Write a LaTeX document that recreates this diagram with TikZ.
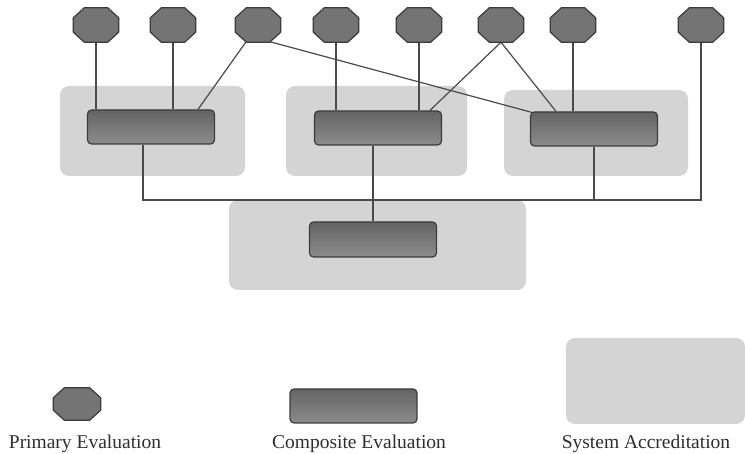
\documentclass[tikz,border=0pt]{standalone}
\usepackage{fontspec}
\setmainfont{Liberation Serif}
\usetikzlibrary{calc}
\pgfdeclarelayer{back}
\pgfdeclarelayer{mid}
\pgfsetlayers{back,mid,main}
\definecolor{octfill}{HTML}{747474}
\definecolor{edge}{HTML}{3C3C3C}
\definecolor{compTop}{HTML}{646464}
\definecolor{compBot}{HTML}{8C8C8C}
\definecolor{accfill}{HTML}{D4D4D4}
\definecolor{wire}{HTML}{4A4A4A}
\definecolor{txt}{HTML}{2E2E2E}
\tikzset{
  primary/.style={rectangle, inner sep=0pt, minimum width=45pt, minimum height=34pt},
  octoutline/.style={fill=octfill, draw=edge, line width=1.2pt, line join=round},
  composite/.style={rectangle, rounded corners=4pt, minimum width=127pt, minimum height=34pt,
    inner sep=0pt, top color=compTop, bottom color=compBot, draw=edge, line width=1.2pt},
  accred/.style={rectangle, rounded corners=9pt, fill=accfill, inner sep=0pt},
  wireline/.style={draw=wire, line width=1.2pt},
  legendtext/.style={font=\fontsize{19.5}{22}\selectfont, text=txt, inner sep=0pt}
}
\begin{document}
\begin{tikzpicture}[x=1pt,y=-1pt]
\useasboundingbox (0,0) rectangle (745,454);
% primary evaluations
\node[primary] (o1) at (96,25) {};
\node[primary] (o2) at (173,25) {};
\node[primary] (o3) at (258,25) {};
\node[primary] (o4) at (336,25) {};
\node[primary] (o5) at (419,25) {};
\node[primary] (o6) at (501,25) {};
\node[primary] (o7) at (573,25) {};
\node[primary] (o8) at (701,25) {};
% composite evaluations
\node[composite] (cA) at (151,127) {};
\node[composite] (cB) at (378,128) {};
\node[composite] (cC) at (594,129) {};
\node[composite, minimum height=35pt] (cD) at (373,239.5) {};
% system accreditation areas
\begin{pgfonlayer}{back}
\node[accred, minimum width=185pt, minimum height=90pt] (bA) at (152.5,131) {};
\node[accred, minimum width=181pt, minimum height=90pt] (bB) at (376.5,131) {};
\node[accred, minimum width=184pt, minimum height=86pt] (bC) at (596,133) {};
\node[accred, minimum width=297pt, minimum height=90pt] (bD) at (377.5,245) {};
\end{pgfonlayer}
% connectors
\coordinate (busL) at (143,200);
\coordinate (busR) at (701,200);
\begin{pgfonlayer}{mid}
\draw[wireline] (o1.south) -- (o1.south |- cA.north);
\draw[wireline] (o2.south) -- (o2.south |- cA.north);
\draw[wireline] (o3) -- ($(cA.north)+(47,0)$);
\draw[wireline] ($(o3.south)+(10,-1)$) -- ($(cC.north west)+(2,1)$);
\draw[wireline] (o4.south) -- (o4.south |- cB.north);
\draw[wireline] (o5.south) -- (o5.south |- cB.north);
\draw[wireline] (o6.south) -- ($(cB.north)+(52,0)$);
\draw[wireline] (o6.south) -- ($(cC.north)+(-38,0)$);
\draw[wireline] (o7.south) -- (o7.south |- cC.north);
\draw[wireline] ($(cA.south)+(-8,0)$) -- (busL) -- (busR) -- (o8.south);
\draw[wireline] (cD.north |- cB.south) -- (cD.north);
\draw[wireline] (cC.south) -- (cC.south |- busR);
\end{pgfonlayer}
% legend
\node[primary, minimum width=47pt, minimum height=32pt] (lo) at (77,404) {};
\node[composite] (lc) at (353.5,406) {};
\node[accred, minimum width=179pt, minimum height=86pt] (lb) at (655.5,381) {};
\node[legendtext] (tp) at (85,444) {Primary Evaluation};
\node[legendtext] (tc) at (359,444) {Composite Evaluation};
\node[legendtext] (ts) at (646,444) {System Accreditation};
% octagon outlines on the primary nodes
\foreach \n in {o1,o2,o3,o4,o5,o6,o7,o8,lo}{
  \draw[octoutline] ($(\n.north west)+(11,0)$) -- ($(\n.north east)+(-11,0)$)
    -- ($(\n.north east)+(0,10)$) -- ($(\n.south east)+(0,-10)$)
    -- ($(\n.south east)+(-11,0)$) -- ($(\n.south west)+(11,0)$)
    -- ($(\n.south west)+(0,-10)$) -- ($(\n.north west)+(0,10)$) -- cycle;
}
\end{tikzpicture}
\end{document}
